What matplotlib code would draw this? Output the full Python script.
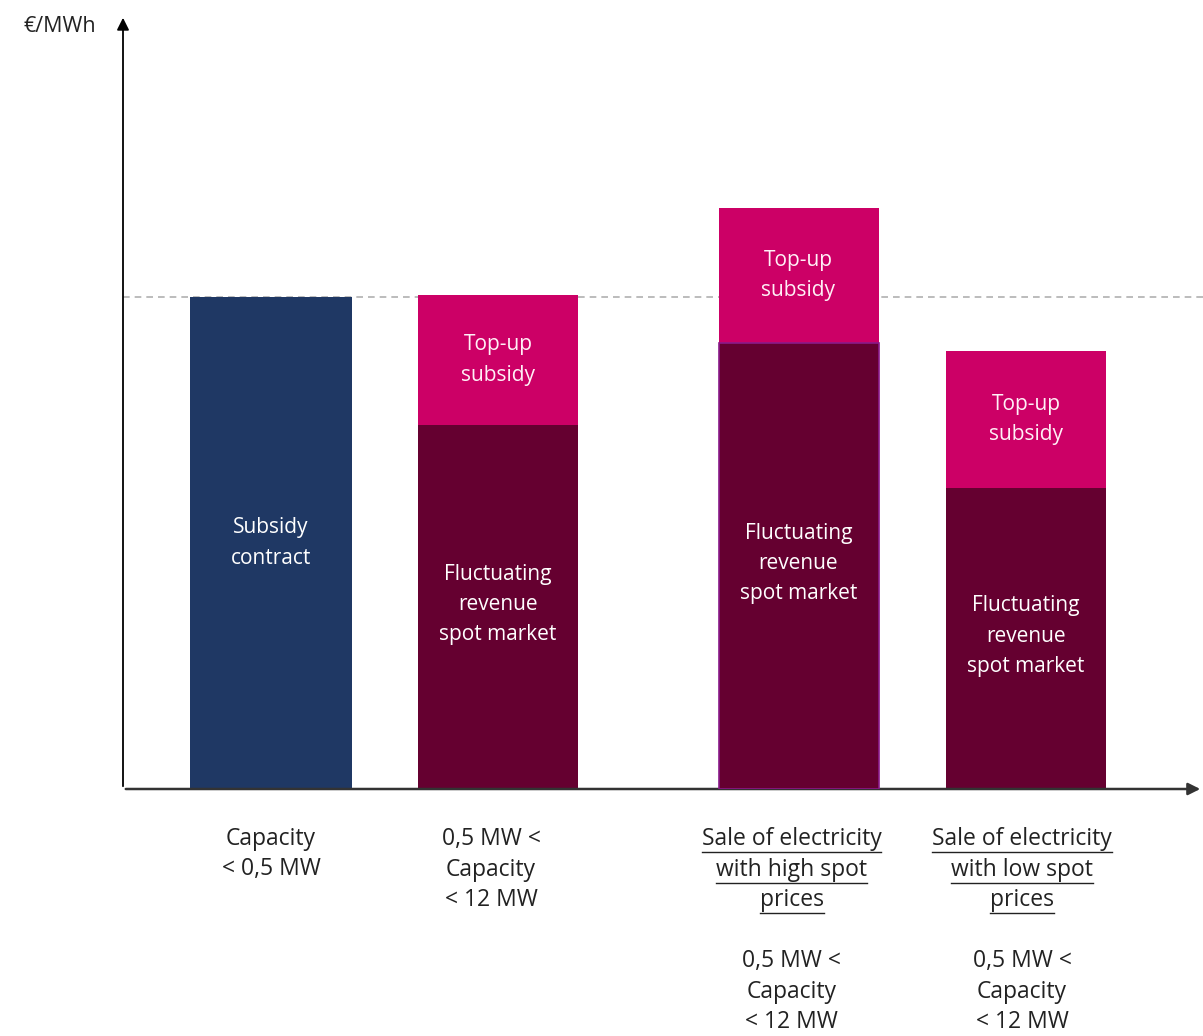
import matplotlib.pyplot as plt
from matplotlib.lines import Line2D

plt.rcParams['font.family'] = ['Open Sans', 'DejaVu Sans']

# bar data (arbitrary €/MWh units, no ticks on the original)
positions = [1.48, 3.75, 6.755, 9.03]
subsidy_contract = [98.4, 0, 0, 0]
spot_revenue = [0, 72.8, 89.2, 60.2]
topup_subsidy = [0, 26.0, 27.0, 27.4]
reference_level = 98.4

bar_labels_mid = ['Subsidy\ncontract', 'Fluctuating\nrevenue\nspot market',
                  'Fluctuating\nrevenue\nspot market', 'Fluctuating\nrevenue\nspot market']
underlined = [[], [], ['Sale of electricity', 'with high spot', 'prices'],
              ['Sale of electricity', 'with low spot', 'prices']]
plain = ['Capacity\n< 0,5 MW', '0,5 MW <\nCapacity\n< 12 MW',
         '0,5 MW <\nCapacity\n< 12 MW', '0,5 MW <\nCapacity\n< 12 MW']
label_shift_px = [0, -7, -7, -4]

navy = '#1f3864'
dark = '#650030'
pink = '#cc0066'

fig = plt.figure(figsize=(12.03, 10.36), dpi=100)
ax = fig.add_axes([123 / 1203, (1036 - 789) / 1036, 1080 / 1203, 774 / 1036])
ax.set_xlim(0, 10.8)
ax.set_ylim(0, 154.8)
ax.axis('off')

# axes with arrows
ax.annotate('', xy=(0, 154.8), xytext=(0, 0),
            arrowprops=dict(arrowstyle='-|>', color='black', lw=1.3, mutation_scale=18))
ax.annotate('', xy=(10.8, 0), xytext=(0, 0),
            arrowprops=dict(arrowstyle='-|>', color='#333333', lw=1.8, mutation_scale=18))
ax.text(-0.27, 152.6, '€/MWh', ha='right', va='center', fontsize=15.5, color='#222222')

ax.axhline(reference_level, color='#b0b0b0', lw=1.2, ls=(0, (4, 3)), zorder=0)

w = 1.6
ax.bar(positions[0], subsidy_contract[0], width=1.62, color=navy, zorder=2)
ax.bar(positions[1:], spot_revenue[1:], width=w, color=dark, zorder=2)
ax.bar(positions[2], spot_revenue[2], width=w, color=dark, edgecolor='#8a1a8a', lw=1.2, zorder=3)
ax.bar(positions[1:], topup_subsidy[1:], bottom=spot_revenue[1:], width=w, color=pink, zorder=2)

for i, x in enumerate(positions):
    if i == 0:
        ax.text(x, subsidy_contract[0] / 2, bar_labels_mid[0], ha='center', va='center',
                color='white', fontsize=15, linespacing=1.6)
        continue
    ax.text(x, spot_revenue[i] / 2 + 0.5, bar_labels_mid[i], ha='center', va='center',
            color='white', fontsize=15, linespacing=1.58)
    ax.text(x, spot_revenue[i] + topup_subsidy[i] / 2, 'Top-up\nsubsidy', ha='center',
            va='center', color='#fff0f6', fontsize=15, linespacing=1.6)

# category labels below the axis (in pixel offsets from the baseline)
line_h = 30.5
fig.canvas.draw()
renderer = fig.canvas.get_renderer()
for i, x in enumerate(positions):
    xf = (ax.transData.transform((x, 0))[0] + label_shift_px[i]) / 1203
    y_px = 789 + 50
    for line in underlined[i]:
        t = fig.text(xf, 1 - y_px / 1036, line, ha='center', va='center', fontsize=16.5, color='#222222')
        bb = t.get_window_extent(renderer)
        yl = bb.y0 - 1
        fig.add_artist(Line2D([bb.x0 / 1203, bb.x1 / 1203], [yl / 1036, yl / 1036],
                              color='#222222', lw=1.0))
        y_px += line_h
    if underlined[i]:
        y_px += line_h
    for line in plain[i].split('\n'):
        fig.text(xf, 1 - y_px / 1036, line, ha='center', va='center', fontsize=16.5, color='#222222')
        y_px += line_h

fig.savefig('out.png', dpi=100)
